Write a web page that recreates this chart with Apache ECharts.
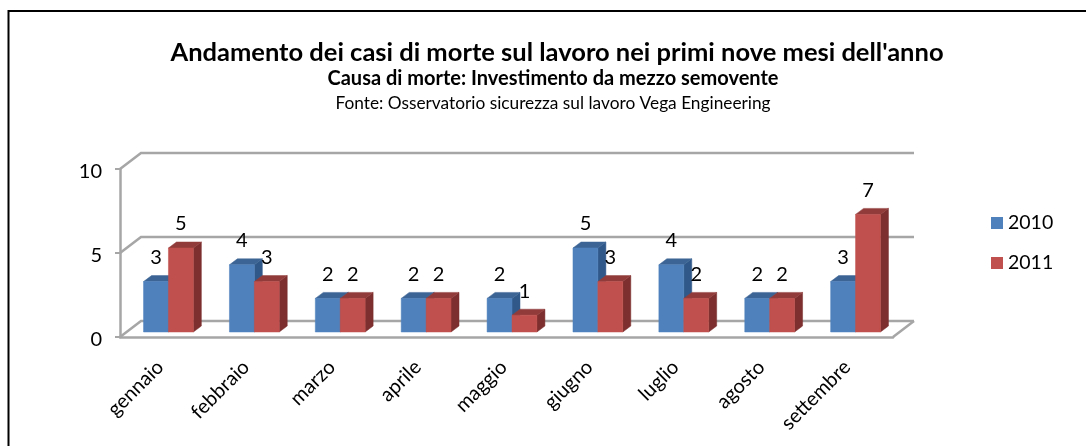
<!DOCTYPE html>
<html>
<head>
<meta charset="utf-8">
<style>
  html, body { margin: 0; padding: 0; background: #fff; }
  #chart { width: 1086px; height: 446px; }
</style>
<script src="https://cdn.jsdelivr.net/npm/echarts@6/dist/echarts.min.js"></script>
</head>
<body>
<div id="chart"></div>
<script>
const titleText = "Andamento dei casi di morte sul lavoro nei primi nove mesi dell'anno"
const subtitleText = 'Causa di morte: Investimento da mezzo semovente'
const sourceText = 'Fonte: Osservatorio sicurezza sul lavoro Vega Engineering'
const months = ['gennaio', 'febbraio', 'marzo', 'aprile', 'maggio', 'giugno', 'luglio', 'agosto', 'settembre']
const values2010 = [3, 4, 2, 2, 2, 5, 4, 2, 3]
const values2011 = [5, 3, 2, 2, 1, 3, 2, 2, 7]
const yTicks = [0, 5, 10]

const FONT = 'Lato, "Open Sans", sans-serif'
const GRID_LINE = '#a6a6a6'
// fake 3d: how far the back wall sits from the front plane
const WALL_DX = 21
const WALL_DY = -16
// bars stand half way into the floor, and have their own small depth
const BAR_DX = 5.5
const BAR_DY = -5
const DEPTH_X = 8
const DEPTH_Y = -6

const poly = (points, fill) => ({
  type: 'polygon',
  shape: { points },
  style: { fill, stroke: fill, lineWidth: 0.5 }
})

const barRenderer = (side, colors) => (params, api) => {
  const idx = api.value(0)
  const val = api.value(1)
  const base = api.coord([idx, 0])
  const top = api.coord([idx, val])
  const halfBand = api.size([1, 0])[0] * 0.29
  const x0 = base[0] + BAR_DX + (side < 0 ? -halfBand : 0)
  const x1 = x0 + halfBand
  const y0 = base[1] + BAR_DY
  const y1 = top[1] + BAR_DY
  return {
    type: 'group',
    children: [
      poly([[x1, y0], [x1 + DEPTH_X, y0 + DEPTH_Y], [x1 + DEPTH_X, y1 + DEPTH_Y], [x1, y1]], colors.side),
      poly([[x0, y1], [x0 + DEPTH_X, y1 + DEPTH_Y], [x1 + DEPTH_X, y1 + DEPTH_Y], [x1, y1]], colors.top),
      poly([[x0, y0], [x1, y0], [x1, y1], [x0, y1]], colors.front),
      {
        type: 'text',
        z2: 50,
        style: {
          text: String(val),
          x: (x0 + x1) / 2,
          y: y1 - 24,
          align: 'center',
          verticalAlign: 'middle',
          fill: '#000',
          font: '20px ' + FONT
        }
      }
    ]
  }
}

// back wall lines + floor edge, placed from the value axis ticks
const wallRenderer = (params, api) => {
  const val = api.value(0)
  const band = api.size([1, 0])[0]
  const y = api.coord([0, val])[1]
  const left = [api.coord([0, val])[0] - band / 2, y]
  const right = [api.coord([months.length - 1, val])[0] + band / 2, y]
  const lineStyle = { stroke: GRID_LINE, lineWidth: 2.5, fill: null }
  const children = [{
    type: 'polyline',
    shape: { points: [left, [left[0] + WALL_DX, y + WALL_DY], [right[0] + WALL_DX, y + WALL_DY]] },
    style: lineStyle
  }]
  if (val === 0) {
    children.push({
      type: 'line',
      shape: { x1: right[0], y1: y, x2: right[0] + WALL_DX, y2: y + WALL_DY },
      style: lineStyle
    })
  }
  return { type: 'group', children }
}

const chart = echarts.init(document.getElementById('chart'))
chart.setOption({
  animation: false,
  backgroundColor: '#fff',
  textStyle: { fontFamily: FONT },
  title: [
    { text: titleText, left: 557, top: 40, padding: 0, textAlign: 'center', textStyle: { fontSize: 25.5, fontWeight: 'bold', color: '#000', fontFamily: FONT } },
    { text: subtitleText, left: 553, top: 69, padding: 0, textAlign: 'center', textStyle: { fontSize: 20, fontWeight: 'bold', color: '#000', fontFamily: FONT } },
    { text: sourceText, left: 553, top: 95, padding: 0, textAlign: 'center', textStyle: { fontSize: 17.3, fontWeight: 'normal', color: '#000', fontFamily: FONT } }
  ],
  legend: {
    orient: 'vertical',
    left: 991,
    top: 213,
    padding: 0,
    itemWidth: 12,
    itemHeight: 12,
    itemGap: 20,
    icon: 'rect',
    data: ['2010', '2011'],
    textStyle: { fontSize: 19.5, color: '#000', fontFamily: FONT }
  },
  grid: { left: 120, right: 193, top: 169, bottom: 109 },
  xAxis: {
    type: 'category',
    data: months,
    axisLine: { lineStyle: { color: GRID_LINE, width: 2.5 } },
    axisTick: { show: false },
    axisLabel: { rotate: 45, fontSize: 20, color: '#000', margin: 24, padding: [0, 4, 0, 0], interval: 0, fontFamily: FONT }
  },
  yAxis: {
    type: 'value',
    min: 0,
    max: 10,
    interval: 5,
    axisLine: { show: true, lineStyle: { color: GRID_LINE, width: 2.5 } },
    axisTick: { show: true, length: 5, lineStyle: { color: GRID_LINE, width: 2 } },
    axisLabel: { fontSize: 20, color: '#000', margin: 18, verticalAlign: 'top', lineHeight: 5, fontFamily: FONT },
    splitLine: { show: false }
  },
  series: [
    {
      type: 'custom',
      silent: true,
      z: 1,
      renderItem: wallRenderer,
      coordinateSystem: 'cartesian2d',
      encode: { y: 0 },
      data: yTicks.map(v => [v]),
      clip: false
    },
    {
      name: '2010',
      type: 'custom',
      z: 2,
      renderItem: barRenderer(-1, { front: '#4f81bd', top: '#3c6595', side: '#30598a' }),
      itemStyle: { color: '#4f81bd' },
      encode: { x: 0, y: 1 },
      data: values2010.map((v, i) => [i, v])
    },
    {
      name: '2011',
      type: 'custom',
      z: 3,
      renderItem: barRenderer(1, { front: '#c0504d', top: '#913c3a', side: '#7c2f2e' }),
      itemStyle: { color: '#c0504d' },
      encode: { x: 0, y: 1 },
      data: values2011.map((v, i) => [i, v])
    }
  ],
  graphic: [{
    type: 'polyline',
    silent: true,
    shape: { points: [[8.5, 446], [8.5, 11], [1086, 11]] },
    style: { stroke: '#000', lineWidth: 2, fill: null }
  }]
})
</script>
</body>
</html>
